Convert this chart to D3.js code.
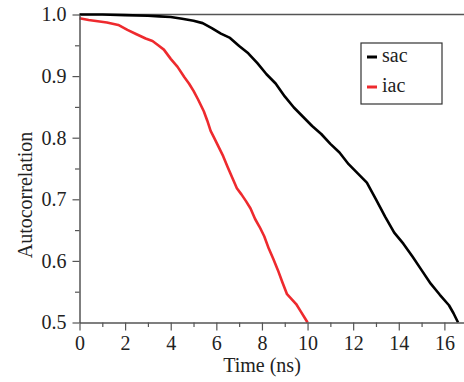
<!DOCTYPE html>
<html>
<head>
<meta charset="utf-8">
<script src="https://cdn.jsdelivr.net/npm/d3@7"></script>
<style>
  body { margin: 0; background: #fff; }
  svg { display: block; }
</style>
</head>
<body>
<svg width="464" height="382"></svg>
<script>
// data
var sacTime = [0, 1, 2, 3, 3.5, 4, 4.5, 5, 5.4, 5.8, 6.2, 6.6, 7.0, 7.4, 7.8, 8.2, 8.6, 9.0, 9.4, 9.8,
    10.2, 10.6, 11.0, 11.4, 11.8, 12.2, 12.6, 13.0, 13.4, 13.8, 14.2, 14.6, 15.0, 15.4, 15.8, 16.2, 16.4, 16.6];
var sacValue = [1.0, 1.0, 0.999, 0.998, 0.997, 0.996, 0.993, 0.99, 0.986, 0.978, 0.969, 0.962, 0.949, 0.937, 0.921, 0.903, 0.888, 0.867, 0.849, 0.834,
    0.819, 0.806, 0.790, 0.776, 0.757, 0.742, 0.727, 0.700, 0.672, 0.646, 0.628, 0.607, 0.585, 0.563, 0.545, 0.528, 0.515, 0.500];

var iacTime = [0, 0.4, 0.8, 1.2, 1.7, 2.1, 2.5, 2.9, 3.2, 3.45, 3.7, 4.0, 4.3, 4.6, 4.8, 5.0, 5.2, 5.45, 5.6, 5.75,
    5.9, 6.1, 6.3, 6.5, 6.7, 6.9, 7.1, 7.3, 7.5, 7.7, 7.9, 8.1, 8.3, 8.5, 8.7, 8.9, 9.1, 9.3, 9.5, 9.7, 9.9, 10.0];
var iacValue = [0.994, 0.991, 0.989, 0.987, 0.983, 0.975, 0.968, 0.961, 0.957, 0.950, 0.943, 0.928, 0.915, 0.898, 0.888, 0.876, 0.862, 0.843, 0.828, 0.811,
    0.800, 0.785, 0.770, 0.752, 0.735, 0.718, 0.708, 0.697, 0.685, 0.668, 0.655, 0.640, 0.620, 0.603, 0.585, 0.565, 0.546, 0.538, 0.530, 0.518, 0.506, 0.500];

var xTicks = [0, 2, 4, 6, 8, 10, 12, 14, 16];
var xMinor = [1, 3, 5, 7, 9, 11, 13, 15];
var yTicks = [0.5, 0.6, 0.7, 0.8, 0.9, 1.0];
var yMinor = [0.55, 0.65, 0.75, 0.85, 0.95];

var seriesNames = ['sac', 'iac'];
var seriesColors = ['#000000', '#ee2a2e'];

var svg = d3.select('svg');
var plotLeft = 79.5, plotRight = 464, plotTop = 14.5, plotBottom = 322.5;
var axisColor = '#555';
var fontFamily = '"Liberation Serif", "Times New Roman", serif';

var x = d3.scaleLinear().domain([0, 16.86]).range([plotLeft, plotRight]);
var y = d3.scaleLinear().domain([0.5, 1.0]).range([plotBottom, plotTop]);

// curves
var line = d3.line()
    .x(function(d) { return x(d[0]); })
    .y(function(d) { return y(d[1]); });

var series = [
    d3.zip(sacTime, sacValue),
    d3.zip(iacTime, iacValue)
];

// top frame line
svg.append('line')
    .attr('x1', plotLeft).attr('x2', plotRight)
    .attr('y1', plotTop).attr('y2', plotTop)
    .attr('stroke', axisColor).attr('stroke-width', 1.5);

series.forEach(function(s, i) {
    svg.append('path')
        .datum(s)
        .attr('d', line)
        .attr('fill', 'none')
        .attr('stroke', seriesColors[i])
        .attr('stroke-width', 2.6)
        .attr('stroke-linejoin', 'round');
});

// x axis
var xAxis = svg.append('g')
    .attr('transform', 'translate(0,' + plotBottom + ')')
    .call(d3.axisBottom(x).tickValues(xTicks).tickSize(8).tickSizeOuter(0).tickPadding(5).tickFormat(d3.format('d')));
var xMinorG = svg.append('g')
    .attr('transform', 'translate(0,' + plotBottom + ')')
    .call(d3.axisBottom(x).tickValues(xMinor).tickSize(4.5).tickFormat(''));

// y axis
var yAxis = svg.append('g')
    .attr('transform', 'translate(' + plotLeft + ',0)')
    .call(d3.axisLeft(y).tickValues(yTicks).tickSize(7).tickSizeOuter(0).tickPadding(6).tickFormat(d3.format('.1f')));
var yMinorG = svg.append('g')
    .attr('transform', 'translate(' + plotLeft + ',0)')
    .call(d3.axisLeft(y).tickValues(yMinor).tickSize(4.5).tickFormat(''));

[xAxis, xMinorG, yAxis, yMinorG].forEach(function(g) {
    g.attr('font-family', fontFamily).attr('font-size', 20);
    g.select('.domain').attr('stroke', axisColor).attr('stroke-width', 1.5);
    g.selectAll('.tick line').attr('stroke', axisColor).attr('stroke-width', 1.2);
    g.selectAll('.tick text').attr('fill', '#222');
});
xMinorG.select('.domain').remove();
yMinorG.select('.domain').remove();

// axis titles
svg.append('text')
    .attr('x', 262)
    .attr('y', 372)
    .attr('text-anchor', 'middle')
    .attr('font-family', fontFamily)
    .attr('font-size', 20)
    .attr('fill', '#222')
    .text('Time (ns)');

svg.append('text')
    .attr('transform', 'translate(32,195) rotate(-90)')
    .attr('text-anchor', 'middle')
    .attr('font-family', fontFamily)
    .attr('font-size', 20)
    .attr('fill', '#222')
    .text('Autocorrelation');

// legend
var legend = svg.append('g');
legend.append('rect')
    .attr('x', 361).attr('y', 43)
    .attr('width', 81).attr('height', 61)
    .attr('fill', '#fff')
    .attr('stroke', '#333').attr('stroke-width', 1.2);
seriesNames.forEach(function(name, i) {
    var cy = 57 + i * 30;
    legend.append('line')
        .attr('x1', 367).attr('x2', 377)
        .attr('y1', cy).attr('y2', cy)
        .attr('stroke', seriesColors[i]).attr('stroke-width', 3);
    legend.append('text')
        .attr('x', 382).attr('y', cy + 5)
        .attr('font-family', fontFamily)
        .attr('font-size', 20)
        .attr('fill', '#222')
        .text(name);
});
</script>
</body>
</html>
